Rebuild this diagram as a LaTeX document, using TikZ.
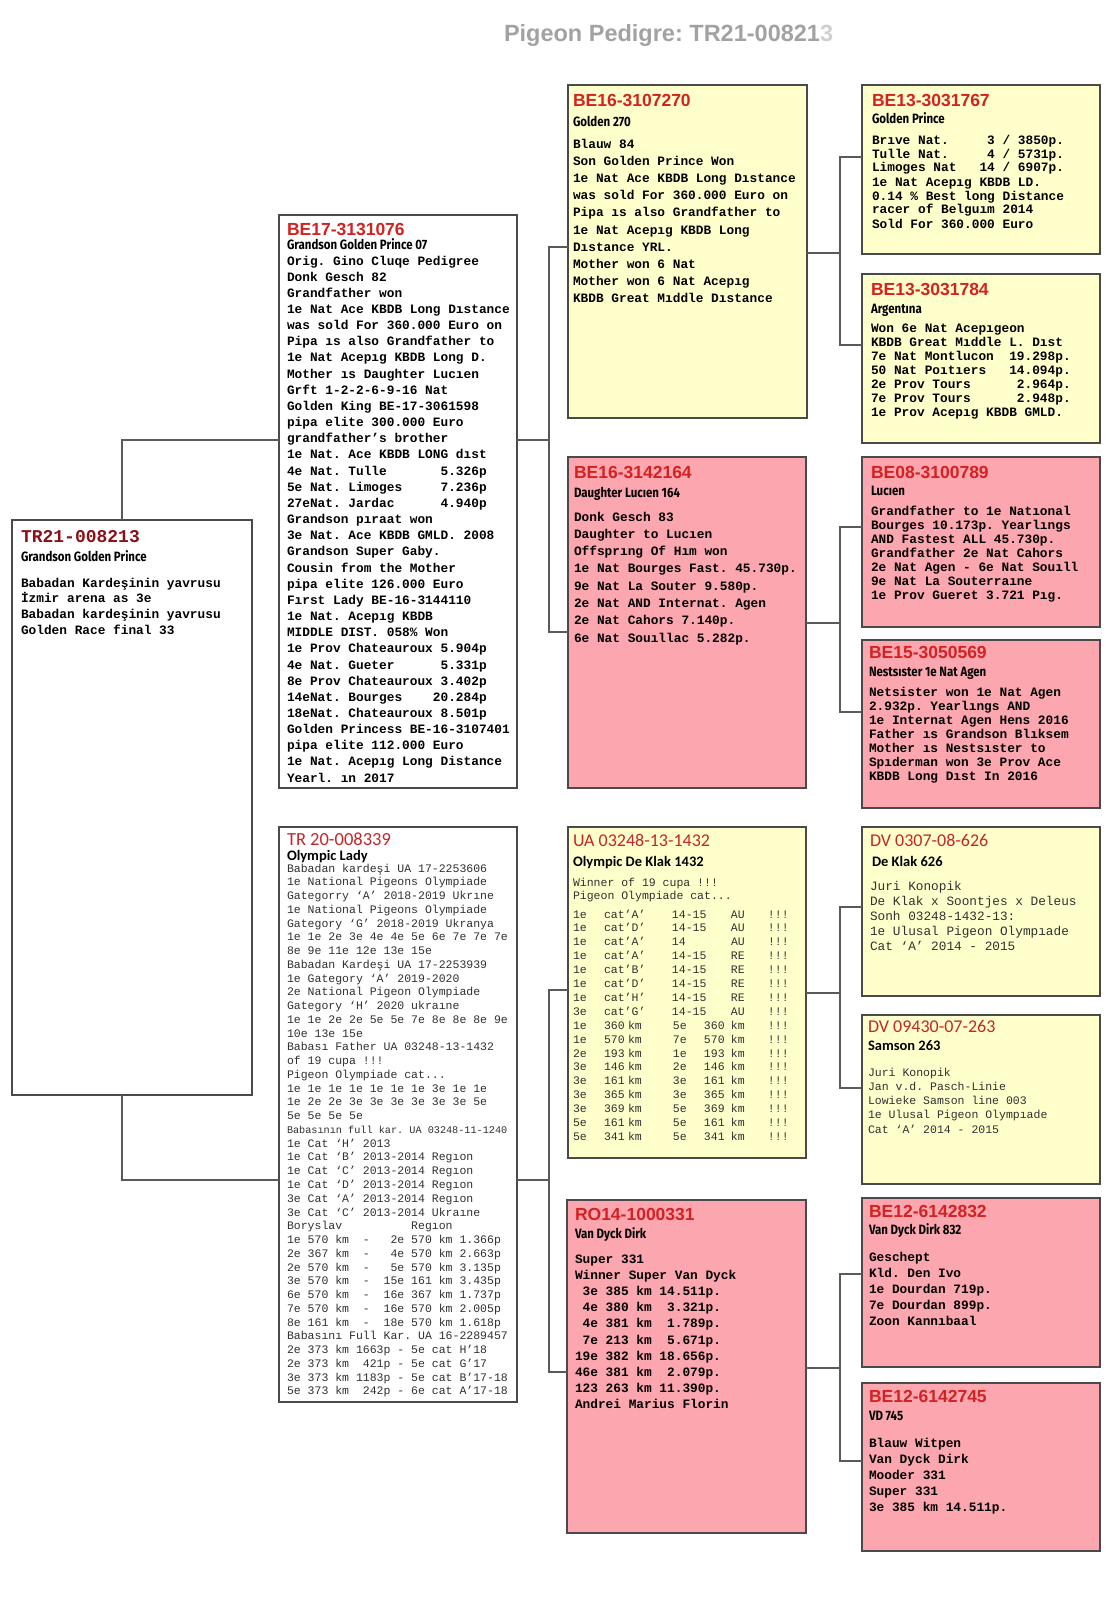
\documentclass[tikz,border=0pt]{standalone}
\usepackage{fontspec}
\newfontfamily\monof{Liberation Mono}
\newfontfamily\arialf{Liberation Sans}
\newfontfamily\calf{Carlito}
\newfontfamily\condf[FakeStretch=0.85]{Fira Sans}
\definecolor{pinkbox}{HTML}{FCA6B0}
\definecolor{yelbox}{HTML}{FFFFCC}
\definecolor{titred}{HTML}{D42121}
\definecolor{darkred}{HTML}{8B1116}
\definecolor{calred}{HTML}{C4262C}
\definecolor{linegray}{HTML}{5A5A5A}
\definecolor{bordergray}{HTML}{4A4A4A}
\definecolor{textgray}{HTML}{303030}
\definecolor{headgray}{HTML}{A2A2A2}
\definecolor{headlight}{HTML}{D0D0D0}
\newenvironment{lns}{\begin{tabular}[t]{@{}l@{}}}{\end{tabular}}
\newcommand\mkbox[6]{\node[#2, minimum width={(#5-#3)*1pt}, minimum height={(#6-#4)*1pt}] (#1) at (#3,#4) {};}
\newcommand\uaA[4]{\makebox[31pt][l]{#1}\makebox[68pt][l]{#2}\makebox[59pt][l]{#3}\makebox[37pt][l]{#4}!!!}
\newcommand\uaB[4]{\makebox[31pt][l]{#1}\makebox[24pt][l]{#2}\makebox[45pt][l]{km}\makebox[31pt][l]{#3}\makebox[27pt][l]{#4}\makebox[37pt][l]{km}!!!}
\newcommand\pedfam[7]{%
  \coordinate (#1-p) at (#4,#5);
  \coordinate (#1-u) at (#4,#6);
  \coordinate (#1-d) at (#4,#7);
  \draw[conn] (#1.east |- #1-p) -- (#1-p);
  \draw[conn] (#2.west |- #1-u) -- (#1-u) -- (#1-d) -- (#3.west |- #1-d);}
\tikzset{
 box/.style={draw=bordergray, line width=1.3pt, anchor=north west, inner sep=0pt, outer sep=0pt},
 wbox/.style={box, fill=white},
 ybox/.style={box, fill=yelbox},
 pbox/.style={box, fill=pinkbox},
 conn/.style={draw=linegray, line width=1.1pt},
 txt/.style={anchor=base west, inner sep=0pt, outer sep=0pt},
 betitle/.style={txt, text=titred, font=\arialf\bfseries\fontsize{17.5}{20}\selectfont},
 subt/.style={txt, text=black, font=\condf\bfseries\fontsize{13.5}{15}\selectfont},
 obody/.style={txt, text=black, font=\monof\bfseries\frenchspacing\fontsize{12.8}{#1}\selectfont},
 caltitle/.style={txt, text=calred, font=\calf\fontsize{#1}{20}\selectfont},
 calsub/.style={txt, text=black, font=\calf\bfseries\fontsize{14.5}{16}\selectfont},
 nbody/.style 2 args={txt, text=textgray, font=\monof\frenchspacing\fontsize{#1}{#2}\selectfont},
}
\begin{document}
\frenchspacing
\begin{tikzpicture}[x=1pt,y=-1pt]
\fill[white] (0,0) rectangle (1114,1600);
\useasboundingbox (0,0) rectangle (1114,1600);

\node[txt, text=headgray, font=\arialf\bfseries\fontsize{23.5}{26}\selectfont] (title) at (504,42) {Pigeon Pedigre: TR21-00821\textcolor{headlight}{3}};

% boxes
\mkbox{tr21}{wbox}{12}{520}{252}{1095}
\mkbox{b17}{wbox}{279}{215}{517}{788}
\mkbox{tr20}{wbox}{279}{827}{517}{1402}
\mkbox{b16a}{ybox}{568}{85}{807}{418}
\mkbox{b16b}{pbox}{568}{457}{806}{788}
\mkbox{ua}{ybox}{568}{827}{806}{1158}
\mkbox{ro}{pbox}{567}{1200}{806}{1533}
\mkbox{be13a}{ybox}{862}{85}{1100}{254}
\mkbox{be13b}{ybox}{862}{274}{1100}{443}
\mkbox{be08}{pbox}{862}{457}{1100}{627}
\mkbox{be15}{pbox}{862}{640}{1100}{808}
\mkbox{dv1}{ybox}{862}{827}{1100}{996}
\mkbox{dv2}{ybox}{862}{1015}{1100}{1184}
\mkbox{be12a}{pbox}{862}{1198}{1100}{1367}
\mkbox{be12b}{pbox}{862}{1383}{1100}{1551}

% connectors
\coordinate (j1) at (122,440);
\coordinate (j2) at (122,1180);
\draw[conn] (tr21.north -| j1) |- (b17.west |- j1);
\draw[conn] (tr21.south -| j1) |- (tr20.west |- j2);
\pedfam{b17}{b16a}{b16b}{549}{440}{247}{632}
\pedfam{tr20}{ua}{ro}{549}{1180}{990}{1372}
\pedfam{b16a}{be13a}{be13b}{840}{253}{157}{345}
\pedfam{b16b}{be08}{be15}{840}{623}{527}{712}
\pedfam{ua}{dv1}{dv2}{840}{993}{907}{1088}
\pedfam{ro}{be12a}{be12b}{840}{1368}{1274}{1461}

% TR21
\node[txt, text=darkred, font=\monof\bfseries\fontsize{18}{20}\selectfont] (tr21-t) at (21,542) {TR21-008213};
\node[subt] (tr21-s) at (21,561) {Grandson Golden Prince};
\node[obody=15.7] (tr21-b) at (21,587) {\begin{lns}Babadan Kardeşinin yavrusu\\İzmir arena as 3e\\Babadan kardeşinin yavrusu\\Golden Race final 33\end{lns}};

% BE17
\node[betitle] (b17-t) at (287,235) {BE17-3131076};
\node[subt] (b17-s) at (287,249) {Grandson Golden Prince 07};
\node[obody=16.16] (b17-b) at (287,265) {\begin{lns}Orig. Gino Cluqe Pedigree\\Donk Gesch 82\\Grandfather won\\1e Nat Ace KBDB Long Dıstance\\was sold For 360.000 Euro on\\Pipa ıs also Grandfather to\\1e Nat Acepıg KBDB Long D.\\Mother ıs Daughter Lucıen\\Grft 1-2-2-6-9-16 Nat\\Golden King BE-17-3061598\\pipa elite 300.000 Euro\\grandfather’s brother\\1e Nat. Ace KBDB LONG dıst\\4e Nat. Tulle~~~~~~~5.326p\\5e Nat. Limoges~~~~~7.236p\\27eNat. Jardac~~~~~~4.940p\\Grandson pıraat won\\3e Nat. Ace KBDB GMLD. 2008\\Grandson Super Gaby.\\Cousin from the Mother\\pipa elite 126.000 Euro\\Fırst Lady BE-16-3144110\\1e Nat. Acepıg KBDB\\MIDDLE DIST. 058\% Won\\1e Prov Chateauroux 5.904p\\4e Nat. Gueter~~~~~~5.331p\\8e Prov Chateauroux 3.402p\\14eNat. Bourges~~~~20.284p\\18eNat. Chateauroux 8.501p\\Golden Princess BE-16-3107401\\pipa elite 112.000 Euro\\1e Nat. Acepıg Long Distance\\Yearl. ın 2017\end{lns}};

% TR 20
\node[caltitle=18.5] (tr20-t) at (287,845) {TR 20-008339};
\node[calsub] (tr20-s) at (287,860) {Olympic Lady};
\node[nbody={11.5}{13.76}] (tr20-b) at (287,872) {\begin{lns}Babadan kardeşi UA 17-2253606\\1e National Pigeons Olympiade\\Gategorry ‘A’ 2018-2019 Ukrıne\\1e National Pigeons Olympiade\\Gategory ‘G’ 2018-2019 Ukranya\\1e 1e 2e 3e 4e 4e 5e 6e 7e 7e 7e\\8e 9e 11e 12e 13e 15e\\Babadan Kardeşi UA 17-2253939\\1e Gategory ‘A’ 2019-2020\\2e National Pigeon Olympiade\\Gategory ‘H’ 2020 ukraıne\\1e 1e 2e 2e 5e 5e 7e 8e 8e 8e 9e\\10e 13e 15e\\Babası Father UA 03248-13-1432\\of 19 cupa !!!\\Pigeon Olympiade cat...\\1e 1e 1e 1e 1e 1e 1e 3e 1e 1e\\1e 2e 2e 3e 3e 3e 3e 3e 3e 5e\\5e 5e 5e 5e\\{\fontsize{10.2}{13.76}\selectfont Babasının full kar. UA 03248-11-1240}\\1e Cat ‘H’ 2013\\1e Cat ‘B’ 2013-2014 Regıon\\1e Cat ‘C’ 2013-2014 Regıon\\1e Cat ‘D’ 2013-2014 Regıon\\3e Cat ‘A’ 2013-2014 Regıon\\3e Cat ‘C’ 2013-2014 Ukraıne\\Boryslav~~~~~~~~~~Regıon\\1e 570 km~~-~~~2e 570 km 1.366p\\2e 367 km~~-~~~4e 570 km 2.663p\\2e 570 km~~-~~~5e 570 km 3.135p\\3e 570 km~~-~~15e 161 km 3.435p\\6e 570 km~~-~~16e 367 km 1.737p\\7e 570 km~~-~~16e 570 km 2.005p\\8e 161 km~~-~~18e 570 km 1.618p\\Babasını Full Kar. UA 16-2289457\\2e 373 km 1663p - 5e cat H’18\\2e 373 km~~421p - 5e cat G’17\\3e 373 km 1183p - 5e cat B’17-18\\5e 373 km~~242p - 6e cat A’17-18\end{lns}};

% BE16-3107270
\node[betitle] (b16a-t) at (573,107) {BE16-3107270};
\node[subt] (b16a-s) at (573,127) {Golden 270};
\node[obody=17.2] (b16a-b) at (573,148) {\begin{lns}Blauw 84\\Son Golden Prince Won\\1e Nat Ace KBDB Long Dıstance\\was sold For 360.000 Euro on\\Pipa ıs also Grandfather to\\1e Nat Acepıg KBDB Long\\Dıstance YRL.\\Mother won 6 Nat\\Mother won 6 Nat Acepıg\\KBDB Great Mıddle Dıstance\end{lns}};

% BE16-3142164
\node[betitle] (b16b-t) at (574,478) {BE16-3142164};
\node[subt] (b16b-s) at (574,497) {Daughter Lucıen 164};
\node[obody=17.3] (b16b-b) at (574,521) {\begin{lns}Donk Gesch 83\\Daughter to Lucıen\\Offsprıng Of Hım won\\1e Nat Bourges Fast. 45.730p.\\9e Nat La Souter 9.580p.\\2e Nat AND Internat. Agen\\2e Nat Cahors 7.140p.\\6e Nat Souıllac 5.282p.\end{lns}};

% UA
\node[caltitle=18] (ua-t) at (573,846) {UA 03248-13-1432};
\node[calsub] (ua-s) at (573,866) {Olympic De Klak 1432};
\node[nbody={11.5}{13.5}] (ua-b1) at (573,886) {\begin{lns}Winner of 19 cupa !!!\\Pigeon Olympiade cat...\end{lns}};
\node[nbody={11.5}{13.9}] (ua-b2) at (573,918) {\begin{lns}\uaA{1e}{cat’A’}{14-15}{AU}\\\uaA{1e}{cat’D’}{14-15}{AU}\\\uaA{1e}{cat’A’}{14}{AU}\\\uaA{1e}{cat’A’}{14-15}{RE}\\\uaA{1e}{cat’B’}{14-15}{RE}\\\uaA{1e}{cat’D’}{14-15}{RE}\\\uaA{1e}{cat’H’}{14-15}{RE}\\\uaA{3e}{cat’G’}{14-15}{AU}\\\uaB{1e}{360}{5e}{360}\\\uaB{1e}{570}{7e}{570}\\\uaB{2e}{193}{1e}{193}\\\uaB{3e}{146}{2e}{146}\\\uaB{3e}{161}{3e}{161}\\\uaB{3e}{365}{3e}{365}\\\uaB{3e}{369}{5e}{369}\\\uaB{5e}{161}{5e}{161}\\\uaB{5e}{341}{5e}{341}\end{lns}};

% RO14
\node[betitle] (ro-t) at (575,1220) {RO14-1000331};
\node[subt] (ro-s) at (575,1238) {Van Dyck Dirk};
\node[obody=16.2] (ro-b) at (575,1263) {\begin{lns}Super 331\\Winner Super Van Dyck\\~3e 385 km 14.511p.\\~4e 380 km~~3.321p.\\~4e 381 km~~1.789p.\\~7e 213 km~~5.671p.\\19e 382 km 18.656p.\\46e 381 km~~2.079p.\\123 263 km 11.390p.\\Andrei Marius Florin\end{lns}};

% BE13-3031767
\node[betitle] (be13a-t) at (872,107) {BE13-3031767};
\node[subt] (be13a-s) at (872,124) {Golden Prince};
\node[obody=14] (be13a-b) at (872,144) {\begin{lns}Brıve Nat.~~~~~3 / 3850p.\\Tulle Nat.~~~~~4 / 5731p.\\Limoges Nat~~~14 / 6907p.\\1e Nat Acepıg KBDB LD.\\0.14 \% Best long Distance\\racer of Belguım 2014\\Sold For 360.000 Euro\end{lns}};

% BE13-3031784
\node[betitle] (be13b-t) at (871,295) {BE13-3031784};
\node[subt] (be13b-s) at (871,313) {Argentına};
\node[obody=14] (be13b-b) at (871,332) {\begin{lns}Won 6e Nat Acepıgeon\\KBDB Great Mıddle L. Dıst\\7e Nat Montlucon~~19.298p.\\50 Nat Poıtıers~~~14.094p.\\2e Prov Tours~~~~~~2.964p.\\7e Prov Tours~~~~~~2.948p.\\1e Prov Acepıg KBDB GMLD.\end{lns}};

% BE08
\node[betitle] (be08-t) at (871,478) {BE08-3100789};
\node[subt] (be08-s) at (871,495) {Lucıen};
\node[obody=14] (be08-b) at (871,515) {\begin{lns}Grandfather to 1e Natıonal\\Bourges 10.173p. Yearlıngs\\AND Fastest ALL 45.730p.\\Grandfather 2e Nat Cahors\\2e Nat Agen - 6e Nat Souıll\\9e Nat La Souterraıne\\1e Prov Gueret 3.721 Pıg.\end{lns}};

% BE15
\node[betitle] (be15-t) at (869,658) {BE15-3050569};
\node[subt] (be15-s) at (869,676) {Nestsıster 1e Nat Agen};
\node[obody=14] (be15-b) at (869,696) {\begin{lns}Netsister won 1e Nat Agen\\2.932p. Yearlıngs AND\\1e Internat Agen Hens 2016\\Father ıs Grandson Blıksem\\Mother ıs Nestsıster to\\Spıderman won 3e Prov Ace\\KBDB Long Dıst In 2016\end{lns}};

% DV 0307
\node[caltitle=18] (dv1-t) at (870,846) {DV 0307-08-626};
\node[calsub] (dv1-s) at (872,866) {De Klak 626};
\node[nbody={12.75}{15}] (dv1-b) at (870,890) {\begin{lns}Juri Konopik\\De Klak x Soontjes x Deleus\\Sonh 03248-1432-13:\\1e Ulusal Pigeon Olympıade\\Cat ‘A’ 2014 - 2015\end{lns}};

% DV 09430
\node[caltitle=18] (dv2-t) at (868,1032) {DV 09430-07-263};
\node[calsub] (dv2-s) at (868,1050) {Samson 263};
\node[nbody={11.5}{14.3}] (dv2-b) at (868,1076) {\begin{lns}Juri Konopik\\Jan v.d. Pasch-Linie\\Lowieke Samson line 003\\1e Ulusal Pigeon Olympıade\\Cat ‘A’ 2014 - 2015\end{lns}};

% BE12-6142832
\node[betitle] (be12a-t) at (869,1217) {BE12-6142832};
\node[subt] (be12a-s) at (869,1234) {Van Dyck Dirk 832};
\node[obody=16.2] (be12a-b) at (869,1261) {\begin{lns}Geschept\\Kld. Den Ivo\\1e Dourdan 719p.\\7e Dourdan 899p.\\Zoon Kannıbaal\end{lns}};

% BE12-6142745
\node[betitle] (be12b-t) at (869,1402) {BE12-6142745};
\node[subt] (be12b-s) at (869,1420) {VD 745};
\node[obody=16.2] (be12b-b) at (869,1447) {\begin{lns}Blauw Witpen\\Van Dyck Dirk\\Mooder 331\\Super 331\\3e 385 km 14.511p.\end{lns}};
\end{tikzpicture}
\end{document}
